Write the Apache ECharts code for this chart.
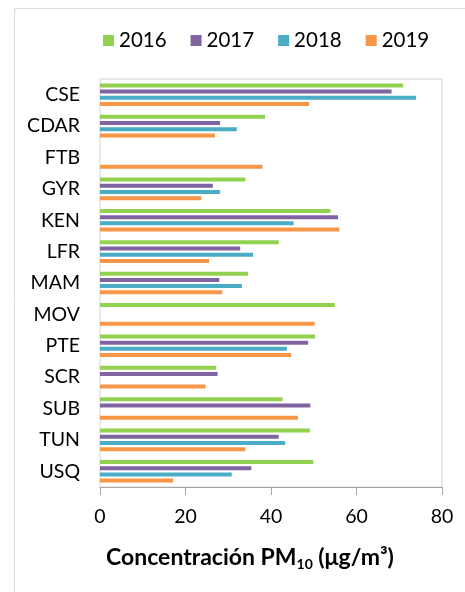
<!DOCTYPE html>
<html>
<head>
<meta charset="utf-8">
<script src="https://cdn.jsdelivr.net/npm/echarts@6/dist/echarts.min.js"></script>
<style>
html, body { margin: 0; padding: 0; background: #fff; }
#report { width: 465px; height: 592px; }
</style>
</head>
<body>
<div id="report"></div>
<script>
// 站点 (从上到下)
var stations = ['CSE', 'CDAR', 'FTB', 'GYR', 'KEN', 'LFR', 'MAM', 'MOV', 'PTE', 'SCR', 'SUB', 'TUN', 'USQ'];
var years = ['2016', '2017', '2018', '2019'];
// PM10 浓度, null = 无数据
var pm2016 = [70.9, 38.6, null, 34.0, 53.9, 41.8, 34.6, 54.9, 50.3, 27.2, 42.7, 49.1, 49.9];
var pm2017 = [68.2, 28.1, null, 26.4, 55.7, 32.8, 27.9, null, 48.7, 27.5, 49.2, 41.8, 35.4];
var pm2018 = [73.9, 32.0, null, 28.1, 45.3, 35.8, 33.2, null, 43.7, null, null, 43.3, 30.8];
var pm2019 = [48.9, 26.9, 38.0, 23.7, 56.0, 25.5, 28.6, 50.2, 44.7, 24.7, 46.3, 34.0, 17.1];
var xTicks = [0, 20, 40, 60, 80];

var colors = ['#92D050', '#8064A2', '#4BACC6', '#F79646'];
var seriesData = [pm2016, pm2017, pm2018, pm2019];

var fontName = 'Lato';

var myChart = echarts.init(document.getElementById('report'));

var series = [];
for (var i = 0; i < years.length; i++) {
    series.push({
        name: years[i],
        type: 'bar',
        data: seriesData[i],
        barWidth: 4,
        barGap: '55%',
        itemStyle: { color: colors[i] }
    });
}

var option = {
    animation: false,
    color: colors,
    textStyle: { fontFamily: fontName },
    // 外框
    graphic: [{
        type: 'rect',
        left: 12,
        top: 6,
        shape: { width: 470, height: 600 },
        style: { fill: 'none', stroke: '#d9d9d9', lineWidth: 1 },
        silent: true
    }],
    legend: {
        data: years,
        left: 98,
        top: 25,
        itemWidth: 11,
        itemHeight: 11,
        itemGap: 24,
        icon: 'rect',
        textStyle: { fontSize: 20.5, color: '#000', fontFamily: fontName }
    },
    grid: {
        left: 100,
        right: 23,
        top: 79,
        bottom: 105,
        show: true,
        borderColor: '#d4d4d4',
        borderWidth: 1,
        containLabel: false
    },
    xAxis: {
        type: 'value',
        min: 0,
        max: 80,
        interval: 20,
        splitLine: { show: false },
        axisLine: { show: true, lineStyle: { color: '#a6a6a6' } },
        axisTick: { show: true, length: 8, lineStyle: { color: '#a6a6a6' } },
        axisLabel: {
            margin: 20,
            fontSize: 19.5,
            color: '#000',
            fontFamily: fontName,
            formatter: function (v) { return xTicks.indexOf(v) >= 0 ? String(v) : ''; }
        },
        name: '{a|Concentración PM}{s|10}{a| (μg/m³)}',
        nameLocation: 'middle',
        nameGap: 58,
        nameTextStyle: {
            padding: [0, 42, 0, 0],
            rich: {
                a: { fontSize: 23, fontWeight: 'bold', color: '#000', fontFamily: fontName },
                s: { fontSize: 14, fontWeight: 'bold', color: '#000', fontFamily: fontName, padding: [12, 0, 0, 0] }
            }
        }
    },
    yAxis: {
        type: 'category',
        data: stations,
        inverse: true,
        axisLine: { show: false },
        axisTick: { show: false },
        splitLine: { show: false },
        axisLabel: { margin: 20, fontSize: 19.5, color: '#000', fontFamily: fontName }
    },
    series: series
};

myChart.setOption(option);
</script>
</body>
</html>
